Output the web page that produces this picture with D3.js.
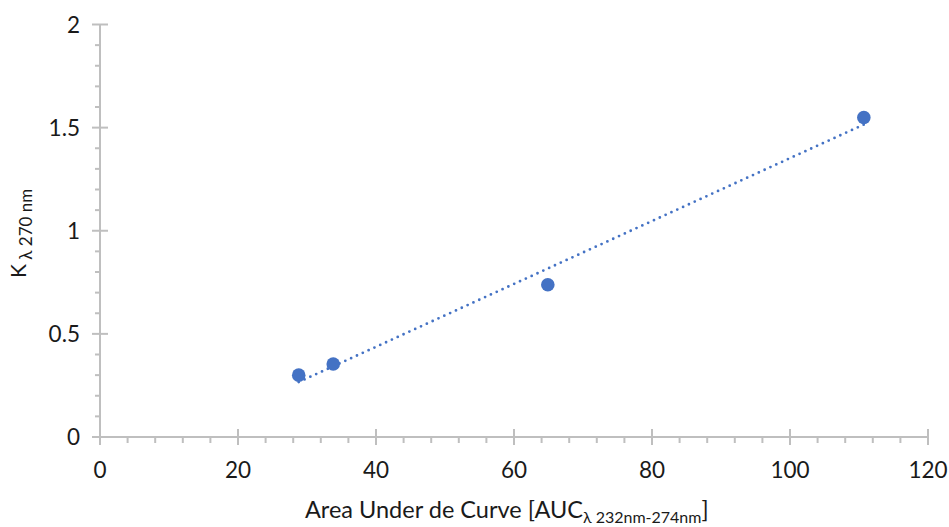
<!DOCTYPE html>
<html><head><meta charset="utf-8">
<script src="https://cdn.jsdelivr.net/npm/d3@7"></script>
<style>body{margin:0;background:#fff}svg{display:block}text{font-family:Lato,"Open Sans",sans-serif;fill:#1a1a1a}</style>
</head><body>
<svg id="c" width="949" height="527"></svg>
<script>
const xValues = [28.8, 33.8, 64.9, 110.7];
const yValues = [0.30, 0.354, 0.738, 1.549];
const xTicks = [0, 20, 40, 60, 80, 100, 120];
const yTicks = [0, 0.5, 1, 1.5, 2];
const yTickLabels = ["0", "0.5", "1", "1.5", "2"];

const svg = d3.select("#c");
const x = d3.scaleLinear().domain([0, 120]).range([100, 928]);
const y = d3.scaleLinear().domain([0, 2]).range([437, 24.5]);
const axisColor = "#bfbfbf";

const gx = svg.append("g");
gx.selectAll("line.minor").data(d3.range(0, 121, 4).filter(v => v % 20 !== 0)).join("line")
  .attr("x1", d => x(d)).attr("x2", d => x(d)).attr("y1", y(0)).attr("y2", y(0) + 6)
  .attr("stroke", axisColor).attr("stroke-width", 2);
gx.selectAll("line.major").data(xTicks).join("line")
  .attr("x1", d => x(d)).attr("x2", d => x(d)).attr("y1", y(0) - 8).attr("y2", y(0) + 8)
  .attr("stroke", axisColor).attr("stroke-width", 2);
gx.append("line").attr("x1", x(0)).attr("x2", x(120)).attr("y1", y(0)).attr("y2", y(0))
  .attr("stroke", axisColor).attr("stroke-width", 2);
gx.selectAll("text").data(xTicks).join("text")
  .attr("x", d => x(d)).attr("y", 478).attr("text-anchor", "middle")
  .attr("font-size", 22.5).text(d => d);

const gy = svg.append("g");
gy.selectAll("line.minor").data(d3.range(1, 20).filter(v => v % 5 !== 0).map(v => v / 10)).join("line")
  .attr("x1", x(0) - 5).attr("x2", x(0)).attr("y1", d => y(d)).attr("y2", d => y(d))
  .attr("stroke", axisColor).attr("stroke-width", 2);
gy.selectAll("line.major").data(yTicks).join("line")
  .attr("x1", x(0) - 8).attr("x2", x(0) + 8).attr("y1", d => y(d)).attr("y2", d => y(d))
  .attr("stroke", axisColor).attr("stroke-width", 2);
gy.append("line").attr("x1", x(0)).attr("x2", x(0)).attr("y1", y(0)).attr("y2", y(2))
  .attr("stroke", axisColor).attr("stroke-width", 2);
gy.selectAll("text").data(yTicks).join("text")
  .attr("x", 80).attr("y", d => y(d) + 8).attr("text-anchor", "end")
  .attr("font-size", 22.5).text((d, i) => yTickLabels[i]);

// linear trendline (least squares fit of the data)
const mx = d3.mean(xValues), my = d3.mean(yValues);
let sxy = 0, sxx = 0;
xValues.forEach((v, i) => { sxy += (v - mx) * (yValues[i] - my); sxx += (v - mx) ** 2; });
const slope = sxy / sxx, icpt = my - slope * mx;
const x0 = d3.min(xValues), x1 = d3.max(xValues);
svg.append("line")
  .attr("x1", x(x0)).attr("y1", y(icpt + slope * x0))
  .attr("x2", x(x1)).attr("y2", y(icpt + slope * x1))
  .attr("stroke", "#4472c4").attr("stroke-width", 2.8)
  .attr("stroke-linecap", "round").attr("stroke-dasharray", "0,6.4");

svg.append("g").selectAll("circle").data(xValues).join("circle")
  .attr("cx", d => x(d)).attr("cy", (d, i) => y(yValues[i])).attr("r", 6.8)
  .attr("fill", "#4472c4");

// axis titles
const xt = svg.append("text").attr("x", 305).attr("y", 518).attr("text-anchor", "start").attr("font-size", 23.5);
xt.append("tspan").text("Area Under de Curve [AUC");
xt.append("tspan").attr("font-size", 16).attr("dy", 5).text("λ 232nm-274nm");
xt.append("tspan").attr("dy", -5).text("]");

const yt = svg.append("text").attr("transform", "translate(26,278) rotate(-90)")
  .attr("text-anchor", "start").attr("font-size", 21);
yt.append("tspan").text("K");
yt.append("tspan").attr("font-size", 17).attr("dy", 6).text(" λ 270 nm");
</script>
</body></html>
